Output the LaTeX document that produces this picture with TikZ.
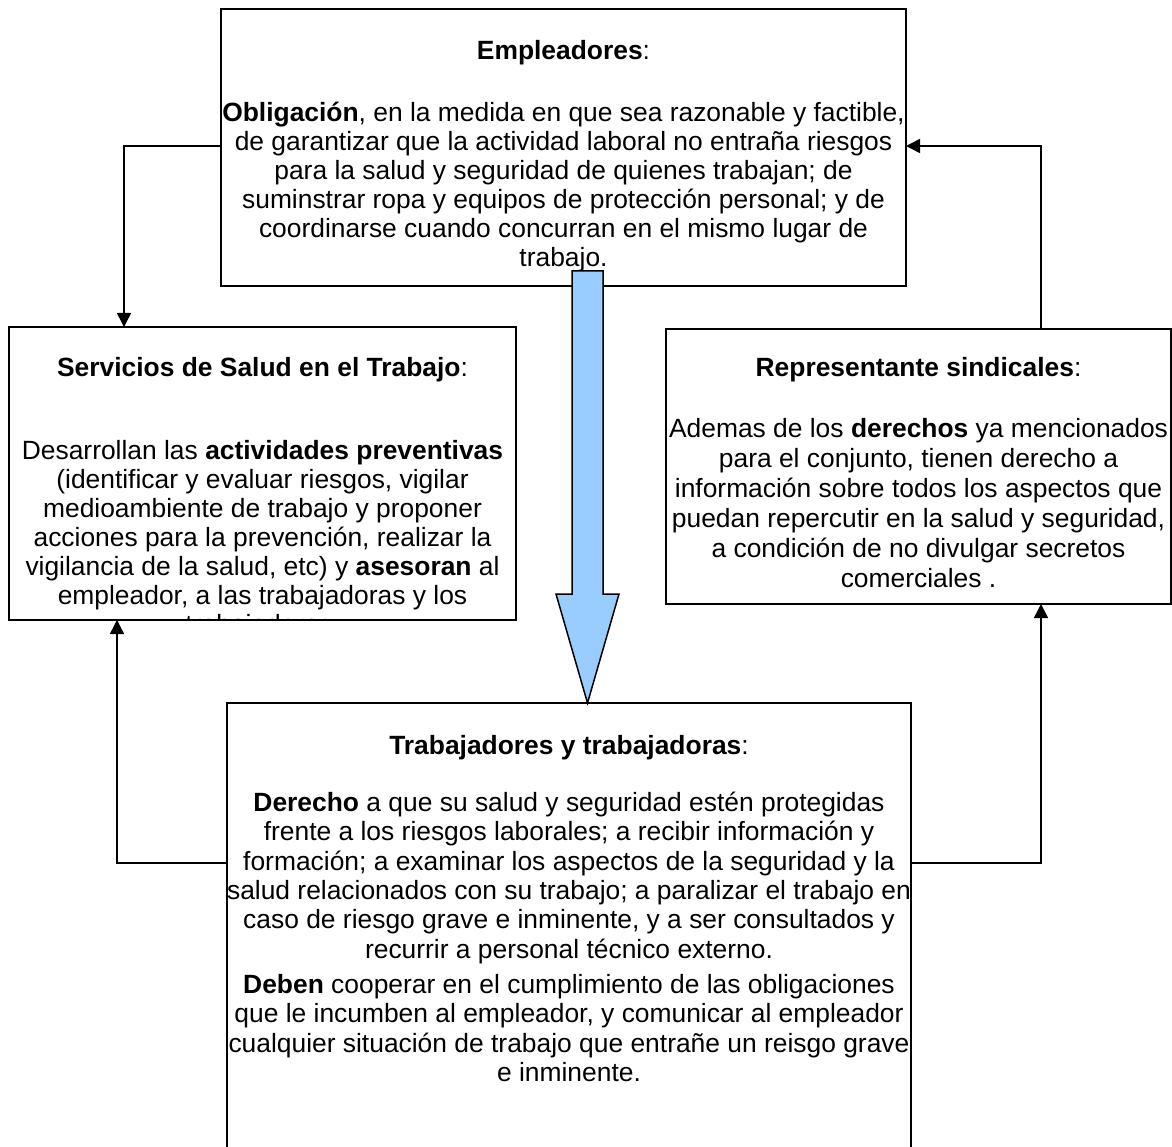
\documentclass[tikz,border=0pt]{standalone}
\usepackage{fontspec}
\setmainfont{Liberation Sans}
\usetikzlibrary{arrows.meta}
\definecolor{flowblue}{HTML}{99CCFF}
\tikzset{
  box/.style={draw, line width=1.5pt, anchor=north west, inner sep=0pt, outer sep=0pt},
  title/.style={anchor=base, inner sep=0pt, font=\fontsize{26.4}{29}\selectfont},
  body/.style={anchor=north, inner sep=0pt, align=center, font=\fontsize{26.4}{29.3}\selectfont},
  link/.style={line width=1.5pt, -{Triangle[length=14pt,width=14pt]}}
}
\begin{document}
\begin{tikzpicture}[x=1pt, y=-1pt]
                \useasboundingbox (0,0) rectangle (1172,1147);

                \node[box, minimum width=685pt, minimum height=277pt] (emp) at (221,9) {};
                \node[box, minimum width=507pt, minimum height=293pt] (serv) at (9,327) {};
                \node[box, minimum width=505pt, minimum height=275pt] (rep) at (666,329) {};
                \node[box, minimum width=684pt, minimum height=452pt] (trab) at (227,703) {};

                \node[title] (emptitle) at (563.5,60) {\textbf{Empleadores}:};
                \node[body, font=\fontsize{26.4}{29}\selectfont] (empbody) at (563.5,102) {\textbf{Obligación}, en la medida en que sea razonable y factible,\\
                  de garantizar que la actividad laboral no entraña riesgos\\
                  para la salud y seguridad de quienes trabajan; de\\
                  suminstrar ropa y equipos de protección personal; y de\\
                  coordinarse cuando concurran en el mismo lugar de\\
                  trabajo.};

                \node[title] (servtitle) at (262.5,377) {\textbf{Servicios de Salud en el Trabajo}:};
                \begin{scope}
                  \clip (serv.north west) rectangle (serv.south east);
                  \node[body, font=\fontsize{26.4}{29}\selectfont] (servbody) at (262.5,440) {Desarrollan las \textbf{actividades preventivas}\\
                    (identificar y evaluar riesgos, vigilar\\
                    medioambiente de trabajo y proponer\\
                    acciones para la prevención, realizar la\\
                    vigilancia de la salud, etc) y \textbf{asesoran} al\\
                    empleador, a las trabajadoras y los\\
                    trabajadores.};
                \end{scope}

                \node[title] (reptitle) at (918.5,377) {\textbf{Representante sindicales}:};
                \node[body, font=\fontsize{26.4}{30}\selectfont] (repbody) at (918.5,418) {Ademas de los \textbf{derechos} ya mencionados\\
                  para el conjunto, tienen derecho a\\
                  información sobre todos los aspectos que\\
                  puedan repercutir en la salud y seguridad,\\
                  a condición de no divulgar secretos\\
                  comerciales .};

                \node[title] (trabtitle) at (569,754) {\textbf{Trabajadores y trabajadoras}:};
                \node[body] (trabbody) at (569,792) {\textbf{Derecho} a que su salud y seguridad estén protegidas\\
                  frente a los riesgos laborales; a recibir información y\\
                  formación; a examinar los aspectos de la seguridad y la\\
                  salud relacionados con su trabajo; a paralizar el trabajo en\\
                  caso de riesgo grave e inminente, y a ser consultados y\\
                  recurrir a personal técnico externo.\\[6pt]
                  \textbf{Deben} cooperar en el cumplimiento de las obligaciones\\
                  que le incumben al empleador, y comunicar al empleador\\
                  cualquier situación de trabajo que entrañe un reisgo grave\\
                  e inminente.};

                \coordinate (kl) at (124,146);
                \coordinate (kr) at (1041,146);
                \coordinate (kbl) at (117,863);
                \coordinate (kbr) at (1041,863);

                \draw[link] (emp.west |- kl) -| (serv.north -| kl);
                \draw[link] (rep.north -| kr) |- (emp.east |- kr);
                \draw[link] (trab.west |- kbl) -| (serv.south -| kbl);
                \draw[link] (trab.east |- kbr) -| (rep.south -| kbr);

                \draw[line width=1.5pt, fill=flowblue, line join=miter] (572,271) -- (603,271) -- (603,594) -- (619,594)
                  -- (trab.north -| 587.5,0) -- (556,594) -- (572,594) -- cycle;
            \end{tikzpicture}
\end{document}
